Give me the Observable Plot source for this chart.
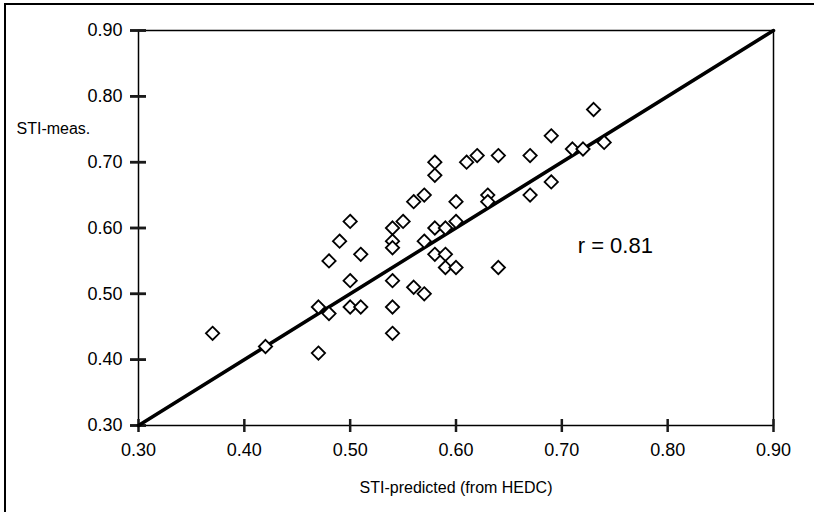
<!DOCTYPE html>
<html>
<head>
<meta charset="utf-8">
<script src="https://cdn.jsdelivr.net/npm/d3@7"></script>
<script src="https://cdn.jsdelivr.net/npm/@observablehq/plot@0.6"></script>
<style>
  html, body { margin: 0; padding: 0; background: #fff; overflow: hidden; }
  #wrap { position: relative; width: 814px; height: 512px; overflow: hidden; }
  #border { position: absolute; left: 4px; top: 3px; width: 900px; height: 700px; border: 2px solid #000; pointer-events: none; }
  svg { position: absolute; left: 0; top: 0; }
</style>
</head>
<body>
<div id="wrap"><div id="border"></div></div>
<script>
// STI-predicted (from HEDC)
const predicted = [0.37,0.42,0.47,0.47,0.48,0.48,0.49,0.50,0.50,0.50,0.51,0.51,
  0.54,0.54,0.54,0.54,0.54,0.54,0.55,0.56,0.57,0.57,0.58,0.59,0.58,0.59,0.59,0.60,
  0.60,0.56,0.57,0.60,0.58,0.58,0.61,0.62,0.64,0.67,0.69,0.73,0.71,0.72,0.74,0.69,
  0.67,0.63,0.63,0.64];
// STI-meas.
const measured = [0.44,0.42,0.41,0.48,0.47,0.55,0.58,0.61,0.52,0.48,0.48,0.56,
  0.60,0.58,0.57,0.52,0.48,0.44,0.61,0.51,0.50,0.58,0.60,0.60,0.56,0.56,0.54,0.54,
  0.61,0.64,0.65,0.64,0.70,0.68,0.70,0.71,0.71,0.71,0.74,0.78,0.72,0.72,0.73,0.67,
  0.65,0.65,0.64,0.54];
const tickValues = [0.30,0.40,0.50,0.60,0.70,0.80,0.90];
const lineX = [0.30, 0.90];
const lineY = [0.30, 0.90];
const rLabel = "r = 0.81";
const rPos = {x: 0.715, y: 0.573};
const xTitle = "STI-predicted (from HEDC)";
const yTitle = "STI-meas.";
const yTitlePos = 0.75;

const points = predicted.map((p, i) => ({x: p, y: measured[i]}));
const linePts = lineX.map((v, i) => ({x: v, y: lineY[i]}));
const fmt = d3.format(".2f");
const font = "'Liberation Sans', Arial, Helvetica, sans-serif";
const axisMin = 0.3;
const tickColor = "#1a1a1a";

const chart = Plot.plot({
  width: 814,
  height: 512,
  marginLeft: 138,
  marginRight: 41,
  marginTop: 30,
  marginBottom: 87,
  style: {fontFamily: font, fontSize: "18px", color: "#000", background: "transparent"},
  x: {domain: [0.3, 0.9], ticks: tickValues, tickFormat: fmt, label: null},
  y: {domain: [0.3, 0.9], ticks: tickValues, tickFormat: fmt, label: null},
  marks: [
    Plot.frame({stroke: "#000", strokeWidth: 1.5}),
    Plot.axisX({ticks: tickValues, tickSize: 0, tickPadding: 18, tickFormat: fmt, label: null, fontSize: 18}),
    Plot.axisY({ticks: tickValues, tickSize: 0, tickPadding: 16, tickFormat: fmt, label: null, fontSize: 18}),
    // tick marks crossing the axes
    Plot.ruleX(tickValues, {x: d => d, y1: () => axisMin, y2: () => axisMin, insetTop: -6, insetBottom: -7, stroke: tickColor, strokeWidth: 2.5}),
    Plot.ruleY(tickValues, {y: d => d, x1: () => axisMin, x2: () => axisMin, insetLeft: -8, insetRight: -8, stroke: tickColor, strokeWidth: 2.5}),
    Plot.axisY({ticks: tickValues, tickSize: 16, dx: 8, tickFormat: () => "", label: null, stroke: tickColor, strokeWidth: 2.5}),
    Plot.line(linePts, {x: "x", y: "y", stroke: "#000", strokeWidth: 3.5}),
    Plot.dot(points, {x: "x", y: "y", symbol: "diamond2", r: 6, fill: "#fff", stroke: "#000", strokeWidth: 1.8}),
    Plot.text([rLabel], {x: () => rPos.x, y: () => rPos.y, text: d => d, textAnchor: "start", fontSize: 22, fill: "#000"}),
    Plot.text([xTitle], {frameAnchor: "bottom", dy: 67, text: d => d, fontSize: 16, fill: "#000"}),
    Plot.text([yTitle], {frameAnchor: "left", y: () => yTitlePos, dx: -122, text: d => d, textAnchor: "start", fontSize: 16, fill: "#000"})
  ]
});
document.getElementById("wrap").appendChild(chart);
</script>
</body>
</html>
